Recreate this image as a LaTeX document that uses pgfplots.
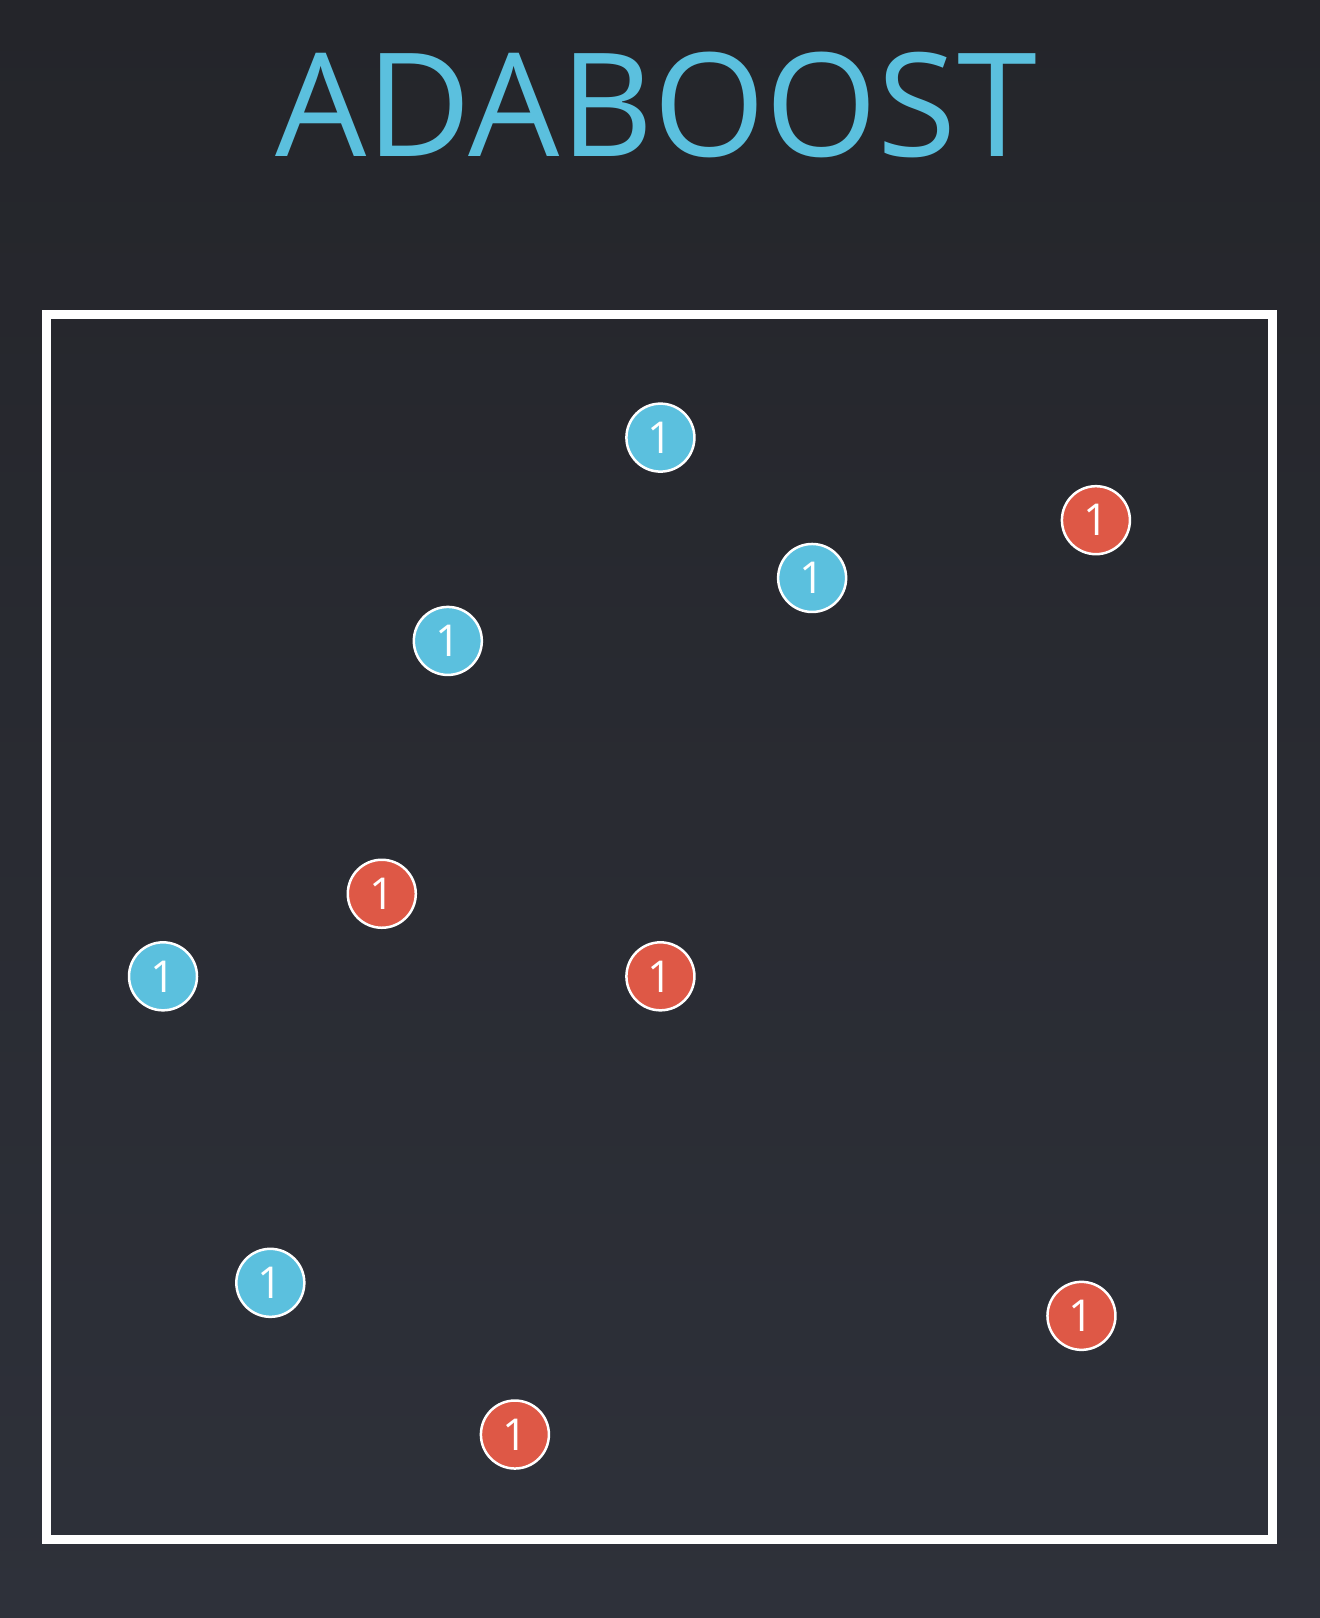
\documentclass[border=0pt]{standalone}
\usepackage{pgfplots}
\pgfplotsset{compat=1.18}
\usepackage{fontspec}
\setmainfont{Open Sans}
\definecolor{bg1}{HTML}{24252A}
\definecolor{bg2}{HTML}{2E313A}
\definecolor{cblue}{HTML}{5BC0DE}
\definecolor{cred}{HTML}{DE5846}
\begin{document}
\begin{tikzpicture}
\shade[top color=bg1,bottom color=bg2] (0,0) rectangle (132mm,161.8mm);
\node[anchor=base,text=cblue,font=\fontsize{41}{45}\selectfont] at (65.6mm,146.1mm) {ADABOOST};
\begin{axis}[at={(4.64mm,7.82mm)},anchor=south west,scale only axis,
  width=122.6mm,height=122.5mm,
  xmin=45,xmax=1233,ymin=305,ymax=1492,y dir=reverse,
  axis line style={white,line width=0.9mm},
  xtick=\empty,ytick=\empty,clip=false,
  nodes near coords={1},
  every node near coord/.append style={anchor=center,text=white,font=\fontsize{12.5}{14}\selectfont},
  ]
\addplot[only marks,mark=*,mark size=3.4mm,mark options={fill=cblue,draw=white,line width=0.25mm}]
 coordinates {(640,424) (787,560) (434,621) (158,946) (262,1243)};
\addplot[only marks,mark=*,mark size=3.4mm,mark options={fill=cred,draw=white,line width=0.25mm}]
 coordinates {(1062,504) (370,866) (640,946) (1048,1275) (499,1390)};
\end{axis}
\end{tikzpicture}
\end{document}
